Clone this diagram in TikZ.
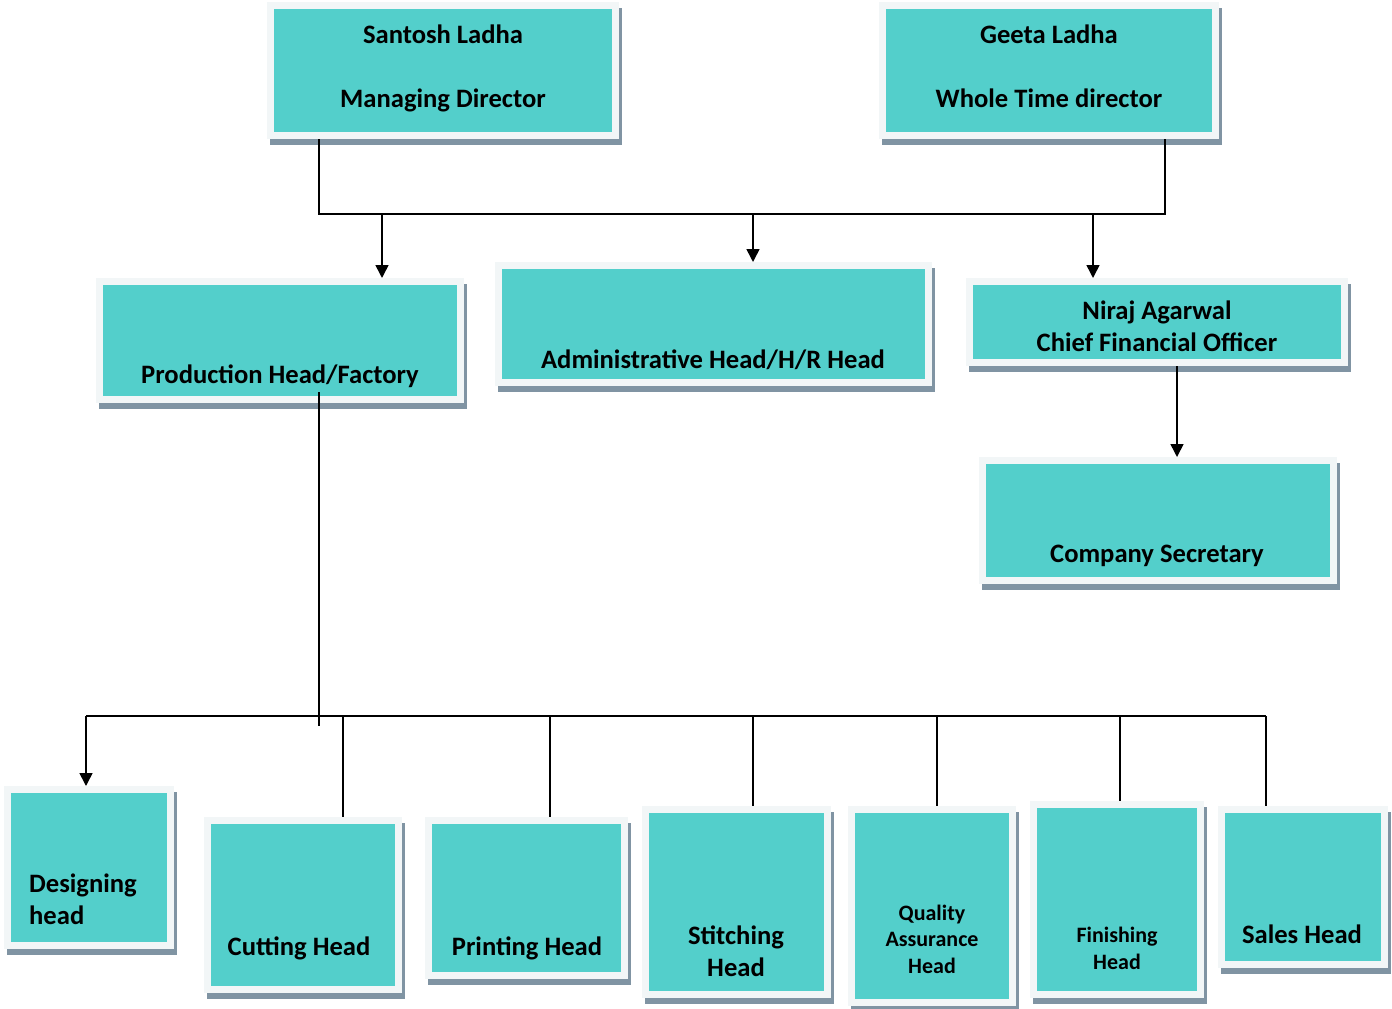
\documentclass[tikz,border=0pt]{standalone}
\usepackage{fontspec}
\setmainfont{Carlito}
\usetikzlibrary{positioning, arrows.meta, calc}

\definecolor{boxteal}{RGB}{83,207,203}
\definecolor{boxrim}{RGB}{242,246,247}
\definecolor{boxshade}{RGB}{128,148,163}

\tikzset{
	orgbox/.style={rectangle, fill=boxteal, draw=boxrim, line width=7pt, inner sep=0pt,
		preaction={fill=boxshade, draw=boxshade, line width=7pt, transform canvas={shift={(3pt,-6pt)}}}},
	bigtext/.style={font=\fontsize{26.6}{32}\selectfont\bfseries, align=center, anchor=base, inner sep=0pt},
	smalltext/.style={font=\fontsize{22}{26.5}\selectfont\bfseries, align=center, anchor=base, inner sep=0pt},
	link/.style={line width=1.6pt, black},
	arrowlink/.style={link, -{Triangle[length=13pt,width=13pt]}}
}

\begin{document}
\begin{tikzpicture}[x=1pt, y=-1pt]
		
		\useasboundingbox (0,0) rectangle (1392,1009);
		
		%Directors
		\node[orgbox, minimum width=345pt, minimum height=130pt] (md) at (443,70.5){};
		\node[orgbox, minimum width=333pt, minimum height=130pt] (wtd) at (1049,70.5){};
		
		%Heads
		\node[orgbox, minimum width=361pt, minimum height=118pt] (prod) at (280,340.5){};
		\node[orgbox, minimum width=430pt, minimum height=117pt] (admin) at (713.5,324){};
		\node[orgbox, minimum width=375pt, minimum height=81pt] (cfo) at (1157,322){};
		\node[orgbox, minimum width=351pt, minimum height=120pt] (cs) at (1158,520.5){};
		
		%Factory heads
		\node[orgbox, minimum width=163pt, minimum height=156pt] (design) at (89,867.5){};
		\node[orgbox, minimum width=191pt, minimum height=169pt] (cut) at (303,905){};
		\node[orgbox, minimum width=196pt, minimum height=155pt] (print) at (526.5,898){};
		\node[orgbox, minimum width=182pt, minimum height=185pt] (stitch) at (736.5,902){};
		\node[orgbox, minimum width=161pt, minimum height=193pt] (qa) at (932,906){};
		\node[orgbox, minimum width=167pt, minimum height=190pt] (fin) at (1117,899.5){};
		\node[orgbox, minimum width=163pt, minimum height=155pt] (sales) at (1303,887){};
		
		%Texts (anchored at the last line)
		\node[bigtext] (mdtext) at (443,107){Santosh Ladha\\[32pt]Managing Director};
		\node[bigtext] (wtdtext) at (1049,107){Geeta Ladha\\[32pt]Whole Time director};
		\node[bigtext] (prodtext) at (280,383){Production Head/Factory};
		\node[bigtext] (admintext) at (713,368){Administrative Head/H/R Head};
		\node[bigtext] (cfotext) at (1157,351){Niraj Agarwal\\Chief Financial Officer};
		\node[bigtext] (cstext) at (1157,562){Company Secretary};
		\node[bigtext, align=left, anchor=base west] (designtext) at (29,924){Designing\\head};
		\node[bigtext] (cuttext) at (299,955){Cutting Head};
		\node[bigtext] (printtext) at (527,955){Printing Head};
		\node[bigtext] (stitchtext) at (736,976){Stitching\\Head};
		\node[smalltext] (qatext) at (932,973){Quality\\Assurance\\Head};
		\node[smalltext] (fintext) at (1117,969){Finishing\\Head};
		\node[bigtext] (salestext) at (1302,943){Sales Head};
		
		%Top links
		\coordinate (topL) at (319,214);
		\coordinate (topR) at (1165,214);
		\draw[link] (md.south -| topL) -- (topL) -- (topR) -- (wtd.south -| topR);
		\coordinate (prodin) at (382,214);
		\coordinate (adminin) at (753,214);
		\coordinate (cfoin) at (1093,214);
		\draw[arrowlink] (prodin) -- (prodin |- prod.north);
		\draw[arrowlink] (adminin) -- (adminin |- admin.north);
		\draw[arrowlink] (cfoin) -- (cfoin |- cfo.north);
		\draw[arrowlink] ([xshift=20pt]cfo.south) -- ([xshift=20pt]cfo.south |- cs.north);
		
		%Factory links
		\coordinate (stem) at (319,726);
		\coordinate (busL) at (86,716);
		\coordinate (busR) at (1266,716);
		\draw[link] ([yshift=11pt]prod.south -| stem) -- (stem);
		\draw[link] (busL) -- (busR);
		\draw[arrowlink] (busL) -- (busL |- design.north);
		\draw[link] (busR) -- (busR |- sales.north);
		\foreach \x/\b in {343/cut, 550/print, 753/stitch, 937/qa, 1120/fin}
		\draw[link] (\x,716) coordinate (drop) -- (drop |- \b.north);
		
\end{tikzpicture}
\end{document}
